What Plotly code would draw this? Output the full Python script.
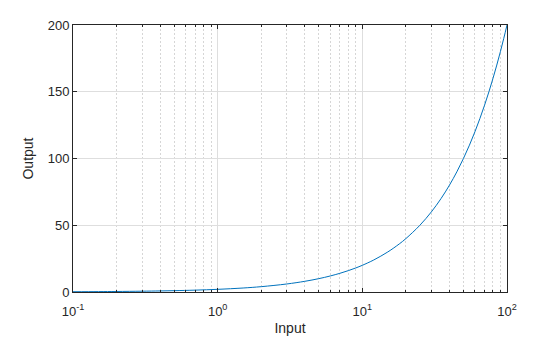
import plotly.graph_objects as go

# Values (Input on log axis, Output linear)
x_input = [0.1, 0.15, 0.2, 0.3, 0.4, 0.5, 0.7, 1.0, 1.5, 2.0, 3.0, 4.0, 5.0, 6.0, 7.0, 8.0, 9.0,
           10.0, 12.0, 15.0, 18.0, 20.0, 25.0, 30.0, 35.0, 40.0, 45.0, 50.0, 55.0, 60.0, 65.0,
           70.0, 75.0, 80.0, 85.0, 90.0, 95.0, 100.0]
y_output = [0.2, 0.3, 0.4, 0.6, 0.8, 1.0, 1.4, 2.0, 3.0, 4.0, 6.0, 8.0, 10.0, 12.0, 14.0, 16.0, 18.0,
            20.0, 24.0, 30.0, 36.0, 40.0, 50.0, 60.0, 70.0, 80.0, 90.0, 100.0, 110.0, 120.0, 130.0,
            140.0, 150.0, 160.0, 170.0, 180.0, 190.0, 200.0]

x_major = [0.1, 1, 10, 100]
x_major_text = ["10<sup>-1</sup>", "10<sup>0</sup>", "10<sup>1</sup>", "10<sup>2</sup>"]
x_minor = [m * d for d in [0.1, 1, 10] for m in range(2, 10)]
y_ticks = [0, 50, 100, 150, 200]

fig = go.Figure()
fig.add_trace(go.Scatter(x=x_input, y=y_output, mode="lines",
                         line=dict(color="#0072BD", width=1), line_shape="spline"))

axis_common = dict(showline=True, mirror="ticks", linecolor="#262626", linewidth=1,
                   ticks="inside", ticklen=4, tickcolor="#262626",
                   gridcolor="#dedede", gridwidth=1, zeroline=False, automargin=False,
                   tickfont=dict(family="Liberation Sans, Arial", size=13, color="#262626"),
                   title_font=dict(family="Liberation Sans, Arial", size=14, color="#262626"))

fig.update_layout(
    width=560, height=337,
    margin=dict(l=73, r=53, t=25, b=45),
    paper_bgcolor="white", plot_bgcolor="white",
    showlegend=False,
    xaxis=dict(type="log", range=[-1, 2], tickmode="array", tickvals=x_major,
               ticktext=x_major_text, ticklabelstandoff=7,
               title=dict(text="Input", standoff=5),
               minor=dict(tickmode="array", tickvals=x_minor, ticks="inside", ticklen=2,
                          tickcolor="#262626", showgrid=True, gridcolor="#d6d6d6",
                          griddash="2px,2px", gridwidth=1),
               **axis_common),
    yaxis=dict(range=[0, 200], tickmode="array", tickvals=y_ticks,
               title=dict(text="Output", standoff=10), **axis_common),
)

fig.write_html("out.html")
